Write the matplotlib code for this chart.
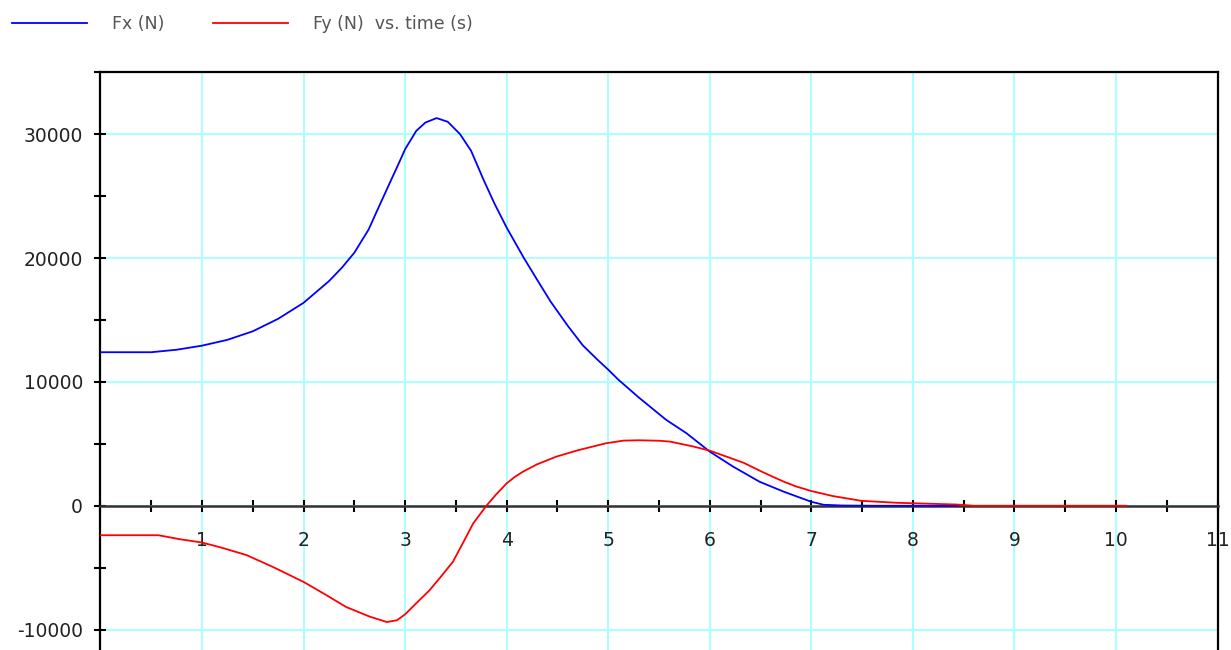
import matplotlib
matplotlib.use("Agg")
import matplotlib.pyplot as plt
from matplotlib.ticker import MultipleLocator, FixedLocator

plt.rcParams["axes.unicode_minus"] = False

# Fx (N) vs time (s)
fx_t = [0, 0.5, 0.75, 1.0, 1.25, 1.5, 1.75, 2.0, 2.25, 2.38, 2.5, 2.64, 2.75, 2.87,
        2.94, 3.0, 3.11, 3.2, 3.31, 3.42, 3.54, 3.65, 3.77, 3.88, 4.0, 4.17, 4.3,
        4.43, 4.6, 4.75, 4.9, 5.0, 5.1, 5.3, 5.57, 5.77, 6.0, 6.23, 6.49, 6.73,
        7.0, 7.12, 7.3, 7.6, 8.0, 8.45]
fx = [12400, 12400, 12600, 12930, 13400, 14090, 15100, 16390, 18140, 19250, 20440,
      22300, 24300, 26450, 27700, 28800, 30280, 30950, 31310, 31010, 30020, 28660,
      26370, 24400, 22460, 20000, 18250, 16520, 14550, 12950, 11750, 10990, 10180,
      8750, 6940, 5860, 4370, 3160, 1940, 1130, 320, 80, 20, 0, 0, 0]

# Fy (N) vs time (s)
fy_t = [0, 0.57, 0.78, 1.0, 1.2, 1.44, 1.7, 2.0, 2.2, 2.42, 2.65, 2.82, 2.92, 3.0,
        3.1, 3.24, 3.35, 3.47, 3.57, 3.67, 3.8, 3.9, 4.0, 4.08, 4.16, 4.3, 4.49,
        4.7, 4.98, 5.15, 5.3, 5.5, 5.61, 5.84, 6.0, 6.33, 6.5, 6.6, 6.73, 6.85,
        7.0, 7.21, 7.49, 7.84, 8.43, 8.6, 9.0, 10.1]
fy = [-2380, -2380, -2700, -2970, -3400, -3990, -4950, -6150, -7100, -8180, -8950,
      -9390, -9250, -8770, -7950, -6830, -5750, -4530, -3000, -1430, 0, 950, 1810,
      2330, 2750, 3350, 3970, 4480, 5050, 5260, 5290, 5250, 5180, 4780, 4450, 3480,
      2800, 2420, 1940, 1560, 1190, 785, 400, 240, 100, 0, 0, 0]

x_labels = [str(i) for i in range(1, 12)]
y_major = [-10000, 0, 10000, 20000, 30000]

fig = plt.figure(figsize=(12.31, 6.5), dpi=100)
ax = fig.add_axes([0.0816, 0.0, 0.9075, 0.8892])

ax.plot(fx_t, fx, color="#0000ff", lw=1.3, zorder=3, label="Fx (N)")
ax.plot(fy_t, fy, color="#ff0000", lw=1.3, zorder=3, label="Fy (N)  vs. time (s)")

ax.set_xlim(0, 11)
ax.set_ylim(-11650, 35030)

ax.xaxis.set_major_locator(FixedLocator(range(1, 12)))
ax.set_xticklabels(x_labels)
ax.xaxis.set_minor_locator(MultipleLocator(0.5))
ax.yaxis.set_major_locator(FixedLocator(y_major))
ax.yaxis.set_minor_locator(MultipleLocator(5000))

ax.spines["bottom"].set_position(("data", 0))
for s in ["left", "top", "right"]:
    ax.spines[s].set_linewidth(1.6)
    ax.spines[s].set_color("black")
ax.spines["bottom"].set_linewidth(1.8)
ax.spines["bottom"].set_color("#333333")

ax.tick_params(axis="both", which="both", direction="inout", length=9, width=1.5,
               color="black", labelsize=13.5, labelcolor="#222222")
ax.tick_params(axis="y", which="both", pad=8)
ax.tick_params(axis="x", which="both", pad=14)
ax.tick_params(top=False, right=False)

ax.grid(True, which="major", color="#a8ffff", lw=1.4, zorder=0)
ax.set_axisbelow(True)

fig.legend(loc="upper left", bbox_to_anchor=(0.0, 0.996), ncol=2, frameon=False,
           fontsize=12.5, handlelength=4.3, handletextpad=1.45, columnspacing=2.8,
           labelcolor="#555555", borderaxespad=0.3)

fig.savefig("out.png", dpi=100)
